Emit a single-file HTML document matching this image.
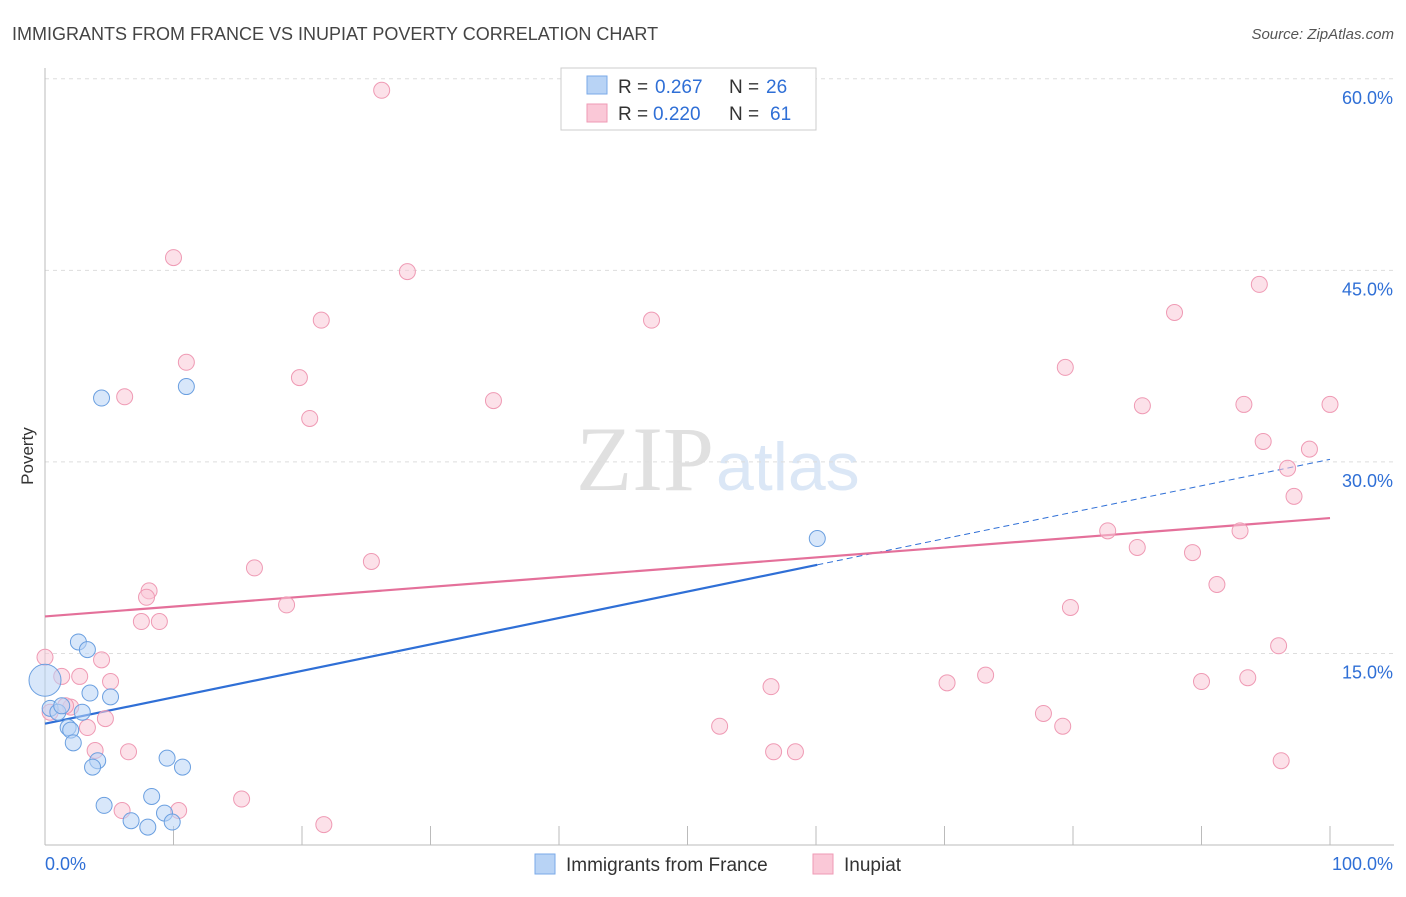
<!DOCTYPE html>
<html><head><meta charset="utf-8"><style>
body{margin:0;background:#fff;font-family:"Liberation Sans",sans-serif}
</style></head><body>
<svg id="chart" width="1406" height="892" xmlns="http://www.w3.org/2000/svg" font-family="Liberation Sans, sans-serif">
<text x="12" y="40" font-size="18" fill="#444">IMMIGRANTS FROM FRANCE VS INUPIAT POVERTY CORRELATION CHART</text>
<text x="1394" y="39" font-size="15" fill="#555" text-anchor="end" font-style="italic">Source: ZipAtlas.com</text>
<text x="714" y="490" font-size="92" fill="#e0e0e0" text-anchor="end" font-family="Liberation Serif, serif">ZIP</text>
<text x="716" y="490" font-size="68" fill="#dbe7f6">atlas</text>
<text x="33" y="456" font-size="17" fill="#333" transform="rotate(-90 33 456)" text-anchor="middle">Poverty</text>
<g id="grid"></g><g id="axes"></g><g id="lines"></g><g id="points"></g>
<g>
<rect x="561" y="68" width="255" height="62" fill="#fff" stroke="#ccc"/>
<rect x="587" y="76" width="20" height="18" fill="#b8d3f5" stroke="#7aaae8"/>
<rect x="587" y="104" width="20" height="18" fill="#fac8d7" stroke="#ef9ab4"/>
<text x="618" y="93" font-size="19" fill="#333">R =</text>
<text x="655" y="93" font-size="19" fill="#2f6fd6">0.267</text>
<text x="729" y="93" font-size="19" fill="#333">N =</text>
<text x="766" y="93" font-size="19" fill="#2f6fd6">26</text>
<text x="618" y="120" font-size="19" fill="#333">R =</text>
<text x="653" y="120" font-size="19" fill="#2f6fd6">0.220</text>
<text x="729" y="120" font-size="19" fill="#333">N =</text>
<text x="770" y="120" font-size="19" fill="#2f6fd6">61</text>
</g>
<g>
<rect x="535" y="854" width="20" height="20" fill="#b8d3f5" stroke="#7aaae8"/>
<text x="566" y="871" font-size="19" fill="#333">Immigrants from France</text>
<rect x="813" y="854" width="20" height="20" fill="#fac8d7" stroke="#ef9ab4"/>
<text x="844" y="871" font-size="19" fill="#333">Inupiat</text>
</g>
</svg>
<script>
const yTicks=[15,30,45,60];
const yTickLabels=["15.0%","30.0%","45.0%","60.0%"];
const xTicks=[0,10,20,30,40,50,60,70,80,90,100];
const blueX=[4.4,11.0,60.1,2.6,3.3,3.5,5.1,0.4,1.0,1.3,2.9,1.8,2.0,2.2,4.1,3.7,9.5,10.7,4.6,8.3,9.3,6.7,8.0,9.9,0];
const blueY=[35.0,35.9,24.0,15.9,15.3,11.9,11.6,10.7,10.4,10.9,10.4,9.2,9.0,8.0,6.6,6.1,6.8,6.1,3.1,3.8,2.5,1.9,1.4,1.8,12.9];
const pinkX=[26.2,10.0,28.2,21.5,47.2,11.0,19.8,6.2,20.6,34.9,94.5,87.9,79.4,85.4,93.3,100,94.8,98.4,96.7,97.2,82.7,93.0,85.0,89.3,91.2,79.8,96.0,16.3,25.4,18.8,8.1,7.9,7.5,8.9,0,4.4,1.3,2.7,5.1,56.5,70.2,73.2,90.0,93.6,77.7,79.2,52.5,56.7,58.4,96.2,4.7,3.3,3.9,6.5,2.0,0.4,6.0,10.4,15.3,21.7,1.6];
const pinkY=[59.1,46.0,44.9,41.1,41.1,37.8,36.6,35.1,33.4,34.8,43.9,41.7,37.4,34.4,34.5,34.5,31.6,31.0,29.5,27.3,24.6,24.6,23.3,22.9,20.4,18.6,15.6,21.7,22.2,18.8,19.9,19.4,17.5,17.5,14.7,14.5,13.2,13.2,12.8,12.4,12.7,13.3,12.8,13.1,10.3,9.3,9.3,7.3,7.3,6.6,9.9,9.2,7.4,7.3,10.8,10.4,2.7,2.7,3.6,1.6,10.9];
const blueFit=[9.5,30.2]; const blueSolidEnd=60.1;
const pinkFit=[17.9,25.6];
const NS="http://www.w3.org/2000/svg";
const X=v=>45+v*12.85, Y=v=>845-v*12.77;
function mk(t,a,p){const e=document.createElementNS(NS,t);for(const k in a)e.setAttribute(k,a[k]);p.appendChild(e);return e;}
const grid=document.getElementById('grid'),axes=document.getElementById('axes'),lines=document.getElementById('lines'),pts=document.getElementById('points');
yTicks.forEach((t,i)=>{
 const l=mk('line',{x1:45,x2:1394,y1:Y(t),y2:Y(t),stroke:'#ddd','stroke-dasharray':'4,4'},grid);
 
 
 const tx=mk('text',{x:1393,y:Y(t)+25,'font-size':18,fill:'#2f6fd6','text-anchor':'end'},axes);
 tx.textContent=yTickLabels[i];
 
 
});
const ya=mk('line',{x1:45,x2:45,y1:68,y2:845,stroke:'#bbb'},axes);


const xa=mk('line',{x1:45,x2:1394,y1:845,y2:845,stroke:'#bbb'},axes);


xTicks.forEach(t=>{const k=mk('line',{x1:X(t),x2:X(t),y1:826,y2:845,stroke:'#bbb'},axes);
 
 });
[[0,'0.0%','start',45],[100,'100.0%','end',1393]].forEach(a=>{const t=mk('text',{x:a[3],y:870,'font-size':18,fill:'#2f6fd6','text-anchor':a[2]},axes);t.textContent=a[1];
 
 });
function dot(x,y,r,f,s,n){const c=mk('circle',{cx:X(x),cy:Y(y),r:r,fill:f,stroke:s,'fill-opacity':0.55,'stroke-width':1},pts);
 
 }
pinkX.forEach((x,i)=>dot(x,pinkY[i],8,'#fac8d7','#ef9ab4','inupiat-point'));
blueX.forEach((x,i)=>dot(x,blueY[i],i===blueX.length-1?16:8,'#b8d3f5','#6a9fe0','france-point'));
const bl=(v)=>blueFit[0]+(blueFit[1]-blueFit[0])*v/100;
const b1=mk('line',{x1:X(0),y1:Y(bl(0)),x2:X(blueSolidEnd),y2:Y(bl(blueSolidEnd)),stroke:'#2f6fd6','stroke-width':2.2},lines);


const b2=mk('line',{x1:X(blueSolidEnd),y1:Y(bl(blueSolidEnd)),x2:X(100),y2:Y(bl(100)),stroke:'#2f6fd6','stroke-width':1,'stroke-dasharray':'6,4'},lines);


const p1=mk('line',{x1:X(0),y1:Y(pinkFit[0]),x2:X(100),y2:Y(pinkFit[1]),stroke:'#e4709a','stroke-width':2.2},lines);


</script>
</body></html>
